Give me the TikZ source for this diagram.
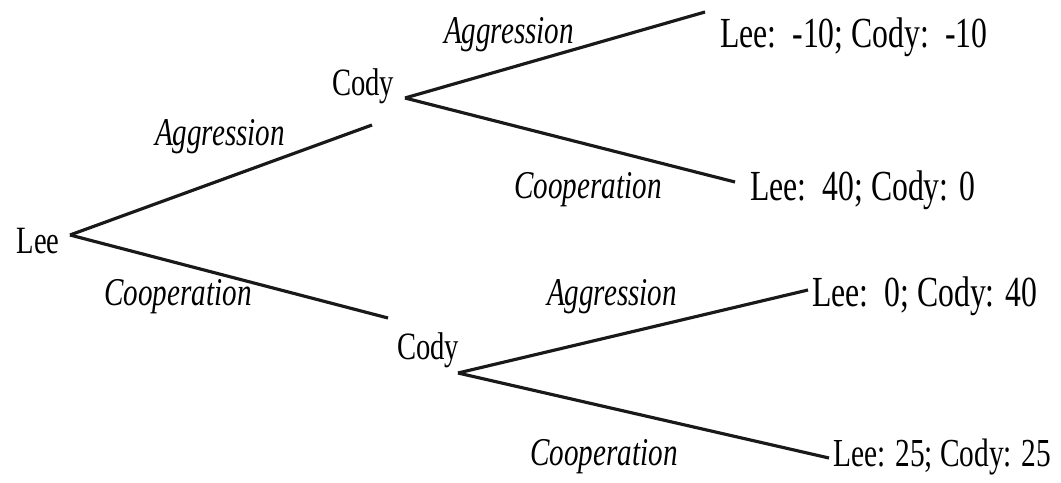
\documentclass[tikz,border=0pt]{standalone}
\usepackage{fontspec}
\setmainfont{Liberation Serif}[FakeStretch=0.74]
\usepackage{tikz}
\usetikzlibrary{positioning}

\begin{document}
\begin{tikzpicture}[
    x=0.02cm, y=-0.02cm,
    player/.style={font=\fontsize{22}{26}\selectfont, inner sep=0pt},
    payoff/.style={font=\fontsize{#1}{28}\selectfont, inner sep=0pt, anchor=west},
    payoff/.default=24.4,
    move label/.style={font=\fontsize{22.4}{26}\selectfont\itshape, inner sep=0pt},
    branch/.style={line width=1.8pt, black!90}
]
\useasboundingbox (0,0) rectangle (1061,483);

% Lee moves first
\node[player] (lee) at (38,241) {Lee};
\coordinate (lee-out) at (70,235);

% Cody after Aggression
\node[player] (cody-agg) at (363,86) {Cody};
\coordinate (cody-agg-in) at (372,125);
\coordinate (cody-agg-out) at (405,98);

% Cody after Cooperation
\node[player] (cody-coop) at (428,350) {Cody};
\coordinate (cody-coop-in) at (388,318);
\coordinate (cody-coop-out) at (458,373);

% Lee's branches
\draw[branch] (lee-out) -- (cody-agg-in);
\draw[branch] (lee-out) -- (cody-coop-in);
\node[move label] (lee-agg) at (220,137) {Aggression};
\node[move label] (lee-coop) at (178,297) {Cooperation};

% Outcomes
\node[payoff] (out-aa) at (720,37) {Lee:\ \ -10; Cody:\ \ -10};
\node[payoff] (out-ac) at (750,190) {Lee:\ \ 40; Cody: 0};
\node[payoff] (out-ca) at (812,296) {Lee:\ \ 0; Cody: 40};
\node[payoff=22.6] (out-cc) at (833,457) {Lee: 25; Cody: 25};
\coordinate (out-aa-in) at (705,12);
\coordinate (out-ac-in) at (735,182);
\coordinate (out-ca-in) at (808,290);
\coordinate (out-cc-in) at (829,458);

% Cody's branches
\draw[branch] (cody-agg-out) -- (out-aa-in);
\draw[branch] (cody-agg-out) -- (out-ac-in);
\draw[branch] (cody-coop-out) -- (out-ca-in);
\draw[branch] (cody-coop-out) -- (out-cc-in);
\node[move label] (agg-agg) at (509,35) {Aggression};
\node[move label] (agg-coop) at (588,190) {Cooperation};
\node[move label] (coop-agg) at (612,297) {Aggression};
\node[move label] (coop-coop) at (604,457) {Cooperation};

\end{tikzpicture}
\end{document}
